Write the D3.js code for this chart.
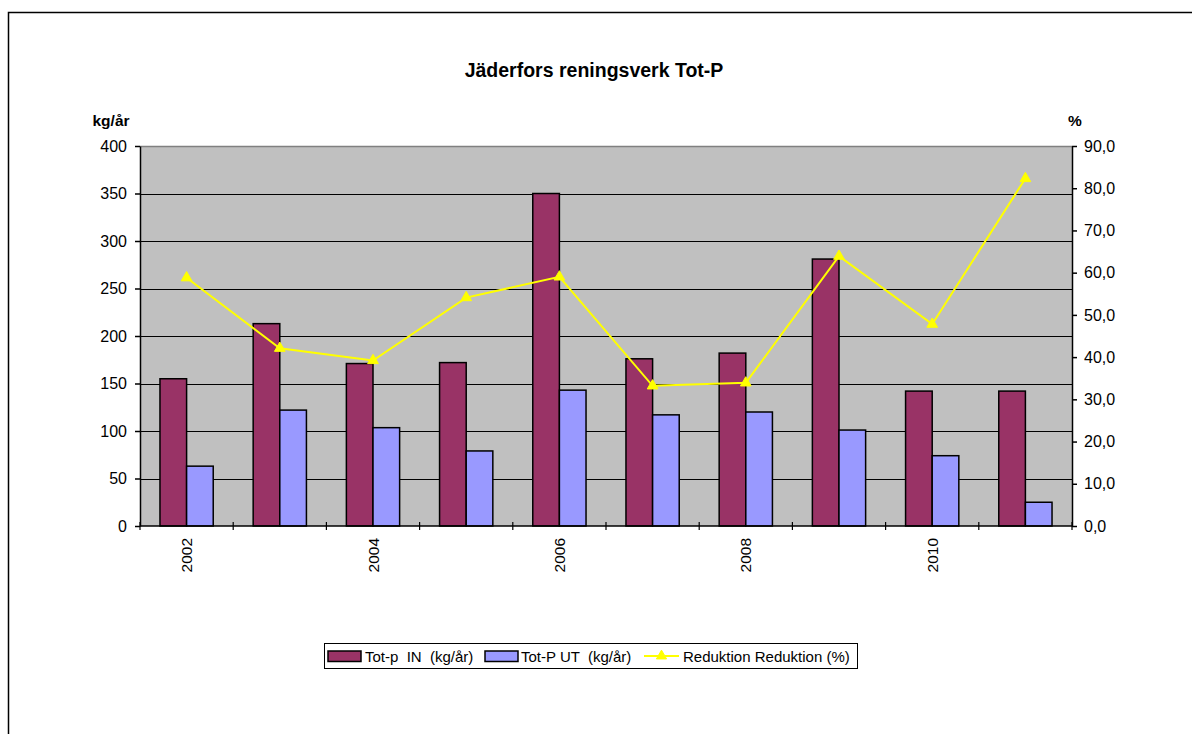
<!DOCTYPE html>
<html>
<head>
<meta charset="utf-8">
<script src="https://cdn.jsdelivr.net/npm/d3@7"></script>
<style>
  html, body { margin: 0; padding: 0; background: #fff; }
  svg { display: block; font-family: "Liberation Sans", Arial, sans-serif; }
</style>
</head>
<body>
<svg id="chart" width="1192" height="734"></svg>
<script>
// Annual phosphorus load at Jäderfors treatment plant
const years = [2002, 2003, 2004, 2005, 2006, 2007, 2008, 2009, 2010, 2011];
const totIn = [155, 213, 171, 172, 350, 176, 182, 281, 142, 142];   // kg/år
const totUt = [63, 122, 103.5, 79, 143, 117, 120, 101, 74, 25];     // kg/år
const reduktion = [58.8, 42.1, 39.2, 54.1, 59.0, 33.2, 33.9, 63.9, 47.8, 82.3]; // %
const leftTicks = [0, 50, 100, 150, 200, 250, 300, 350, 400];
const rightTicks = [0, 10, 20, 30, 40, 50, 60, 70, 80, 90];
const yearLabels = [2002, 2004, 2006, 2008, 2010];
const seriesNames = ["Tot-p  IN  (kg/år)", "Tot-P UT  (kg/år)", "Reduktion Reduktion (%)"];

const svg = d3.select("#chart");
const plot = { left: 140, right: 1072, top: 146, bottom: 526 };
const colIn = "#993366", colUt = "#9999FF", colLine = "#FFFF00", plotBg = "#C0C0C0";

// outer frame
svg.append("path")
  .attr("d", `M8.5,734 V12.5 H1192`)
  .attr("fill", "none").attr("stroke", "#000").attr("stroke-width", 1.5);

// scales
const x = d3.scaleBand().domain(years).range([plot.left, plot.right]).paddingInner(0).paddingOuter(0);
const xs = d3.scaleBand().domain(["in", "ut"]).range([0, x.bandwidth()]).paddingInner(0).paddingOuter(0.75);
const yL = d3.scaleLinear().domain([0, 400]).range([plot.bottom, plot.top]);
const yR = d3.scaleLinear().domain([0, 90]).range([plot.bottom, plot.top]);

// plot background
svg.append("rect")
  .attr("x", plot.left).attr("y", plot.top)
  .attr("width", plot.right - plot.left).attr("height", plot.bottom - plot.top)
  .attr("fill", plotBg);
svg.append("line")
  .attr("x1", plot.left).attr("x2", plot.right)
  .attr("y1", plot.top + 0.5).attr("y2", plot.top + 0.5)
  .attr("stroke", "#808080").attr("stroke-width", 1.5);

// horizontal gridlines
svg.append("g").selectAll("line")
  .data(leftTicks.filter(d => d > 0 && d < 400))
  .join("line")
  .attr("x1", plot.left).attr("x2", plot.right)
  .attr("y1", d => Math.round(yL(d)) + 0.5).attr("y2", d => Math.round(yL(d)) + 0.5)
  .attr("stroke", "#000").attr("stroke-width", 1);

// bars
const groups = svg.append("g").selectAll("g")
  .data(years)
  .join("g")
  .attr("transform", d => `translate(${x(d)},0)`);

groups.append("rect")
  .attr("x", xs("in")).attr("width", xs.bandwidth())
  .attr("y", (d, i) => yL(totIn[i])).attr("height", (d, i) => yL(0) - yL(totIn[i]))
  .attr("fill", colIn).attr("stroke", "#000").attr("stroke-width", 1.5);

groups.append("rect")
  .attr("x", xs("ut")).attr("width", xs.bandwidth())
  .attr("y", (d, i) => yL(totUt[i])).attr("height", (d, i) => yL(0) - yL(totUt[i]))
  .attr("fill", colUt).attr("stroke", "#000").attr("stroke-width", 1.5);

// left axis
const axL = svg.append("g")
  .attr("transform", `translate(${plot.left},0)`)
  .call(d3.axisLeft(yL).tickValues(leftTicks).tickSize(5).tickSizeOuter(0).tickPadding(8));
axL.select(".domain").attr("stroke", "#000").attr("stroke-width", 1.5);
axL.selectAll(".tick line").attr("stroke", "#000").attr("stroke-width", 1.5);
axL.selectAll(".tick text").attr("font-size", 16).attr("fill", "#000")
  .attr("font-family", "Liberation Sans, Arial, sans-serif");

// right axis
const axR = svg.append("g")
  .attr("transform", `translate(${plot.right},0)`)
  .call(d3.axisRight(yR).tickValues(rightTicks).tickSize(5).tickSizeOuter(0).tickPadding(7)
    .tickFormat(d => d.toFixed(1).replace(".", ",")));
axR.select(".domain").attr("stroke", "#000").attr("stroke-width", 1.5);
axR.selectAll(".tick line").attr("stroke", "#000").attr("stroke-width", 1.5);
axR.selectAll(".tick text").attr("font-size", 16).attr("fill", "#000")
  .attr("font-family", "Liberation Sans, Arial, sans-serif");

// bottom axis: line, boundary ticks, every other year label
svg.append("line")
  .attr("x1", plot.left).attr("x2", plot.right)
  .attr("y1", plot.bottom).attr("y2", plot.bottom)
  .attr("stroke", "#000").attr("stroke-width", 1.5);
const boundaries = years.map(d => x(d)).concat([x(years[years.length - 1]) + x.bandwidth()]);
svg.append("g").selectAll("line")
  .data(boundaries)
  .join("line")
  .attr("x1", d => d).attr("x2", d => d)
  .attr("y1", plot.bottom - 4).attr("y2", plot.bottom + 4)
  .attr("stroke", "#000").attr("stroke-width", 1.2);
svg.append("g").selectAll("text")
  .data(yearLabels)
  .join("text")
  .attr("transform", d => `translate(${x(d) + x.bandwidth() / 2 + 5.5},${plot.bottom + 12}) rotate(-90)`)
  .attr("text-anchor", "end")
  .attr("font-size", 15.5)
  .attr("fill", "#000")
  .text(d => d);

// reduction line
const line = d3.line()
  .x((d, i) => x(years[i]) + x.bandwidth() / 2)
  .y(d => yR(d));
svg.append("path")
  .datum(reduktion)
  .attr("d", line)
  .attr("fill", "none").attr("stroke", colLine).attr("stroke-width", 2);
svg.append("g").selectAll("path")
  .data(reduktion)
  .join("path")
  .attr("transform", (d, i) => `translate(${x(years[i]) + x.bandwidth() / 2},${yR(d)})`)
  .attr("d", d3.symbol(d3.symbolTriangle, 50))
  .attr("fill", colLine).attr("stroke", colLine).attr("stroke-width", 1);

// title and axis unit labels
svg.append("text")
  .attr("x", 594).attr("y", 77)
  .attr("text-anchor", "middle")
  .attr("font-size", 19.5).attr("font-weight", "bold")
  .text("Jäderfors reningsverk Tot-P");
svg.append("text")
  .attr("x", 92.5).attr("y", 126)
  .attr("font-size", 15.5).attr("font-weight", "bold")
  .text("kg/år");
svg.append("text")
  .attr("x", 1068).attr("y", 126)
  .attr("font-size", 15.5).attr("font-weight", "bold")
  .text("%");

// legend
const legend = svg.append("g");
legend.append("rect")
  .attr("x", 324.5).attr("y", 643.5).attr("width", 533).attr("height", 25)
  .attr("fill", "#fff").attr("stroke", "#000").attr("stroke-width", 1);

const legendItems = [
  { name: seriesNames[0], type: "bar", color: colIn, x: 328, tx: 365 },
  { name: seriesNames[1], type: "bar", color: colUt, x: 485, tx: 521 },
  { name: seriesNames[2], type: "line", color: colLine, x: 644, tx: 683 }
];
const li = legend.selectAll("g.item").data(legendItems).join("g").attr("class", "item");
li.filter(d => d.type === "bar").append("rect")
  .attr("x", d => d.x).attr("y", 651).attr("width", 33).attr("height", 10.5)
  .attr("fill", d => d.color).attr("stroke", "#000").attr("stroke-width", 1.5);
li.filter(d => d.type === "line").append("line")
  .attr("x1", d => d.x).attr("x2", d => d.x + 35)
  .attr("y1", 656).attr("y2", 656)
  .attr("stroke", d => d.color).attr("stroke-width", 2);
li.filter(d => d.type === "line").append("path")
  .attr("transform", d => `translate(${d.x + 17.5},656)`)
  .attr("d", d3.symbol(d3.symbolTriangle, 45))
  .attr("fill", d => d.color).attr("stroke", d => d.color);
li.append("text")
  .attr("x", d => d.tx).attr("y", 661.5)
  .attr("font-size", 15)
  .attr("fill", "#000")
  .style("white-space", "pre")
  .text(d => d.name);
</script>
</body>
</html>
